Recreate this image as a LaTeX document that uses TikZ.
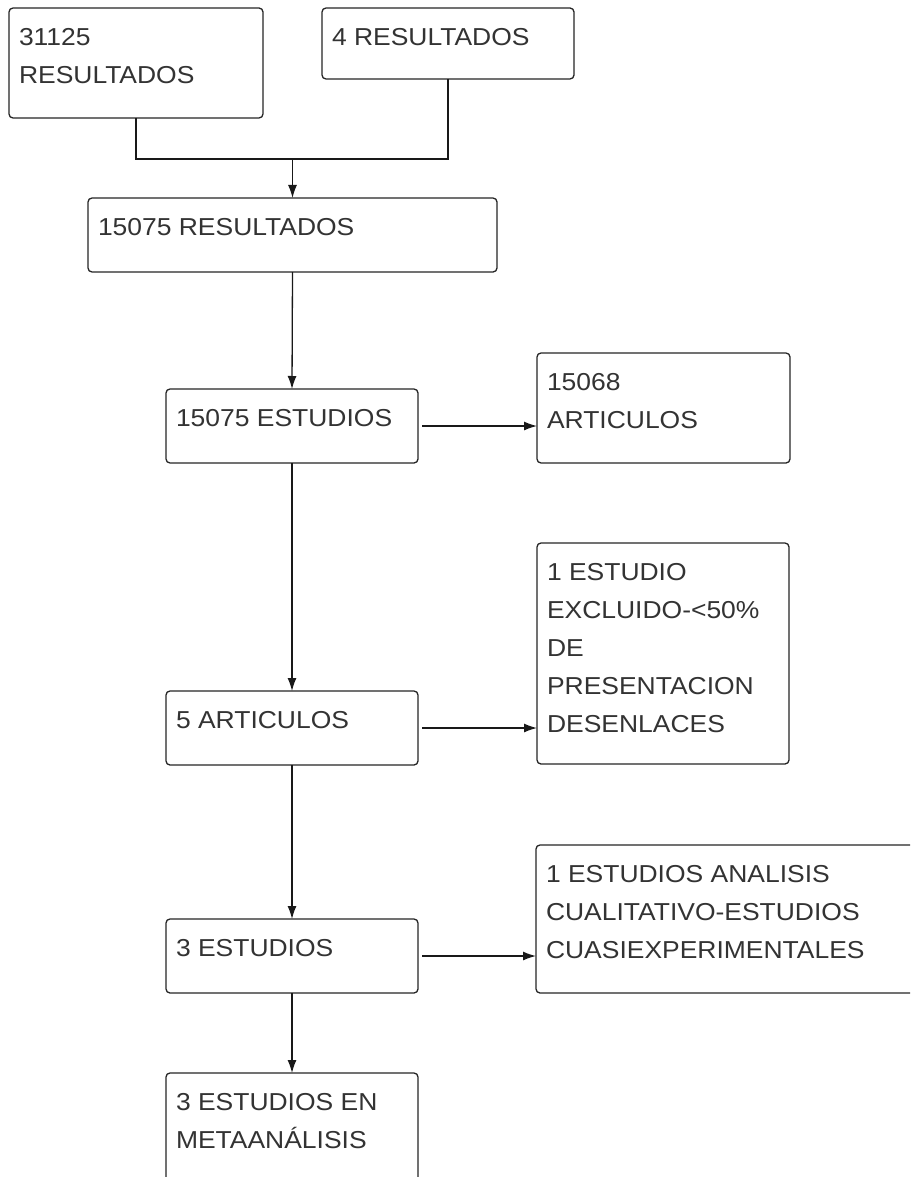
\documentclass[tikz,border=0pt]{standalone}
\usepackage{fontspec}
\setmainfont{Liberation Sans}[FakeStretch=1.08]
\usetikzlibrary{arrows.meta,calc}
\newcommand{\bx}[3]{\parbox[c][\dimexpr#2pt-22pt\relax][t]{\dimexpr#1pt-20pt\relax}{\raggedright\fontsize{24.5}{38}\selectfont\strut #3}}
\tikzset{
  flowbox/.style={draw=black!85, line width=1.3pt, rounded corners=4pt, inner xsep=10pt, inner ysep=11pt, anchor=north west, outer sep=0pt, text=black!80},
  link/.style={draw=black!90, line width=1.3pt},
  arr/.style={link, -{Latex[length=13pt,width=9pt]}}
}
\begin{document}
\begin{tikzpicture}[x=1pt,y=-1pt]
\useasboundingbox (0,0) rectangle (910,1177);
\fill[white] (0,0) rectangle (910,1177);
\clip (0,0) rectangle (910,1177);
\node[flowbox] (A) at (9,8) {\bx{254}{110}{31125\\RESULTADOS}};
\node[flowbox] (B) at (322,8) {\bx{252}{71}{4 RESULTADOS}};
\node[flowbox] (C) at (88,198) {\bx{409}{74}{15075 RESULTADOS}};
\node[flowbox] (D) at (166,389) {\bx{252}{74}{15075 ESTUDIOS}};
\node[flowbox] (E) at (537,353) {\bx{253}{110}{15068\\ARTICULOS}};
\node[flowbox] (F) at (166,691) {\bx{252}{74}{5 ARTICULOS}};
\node[flowbox] (G) at (537,543) {\bx{252}{221}{1 ESTUDIO\\EXCLUIDO-<50\%\\DE\\PRESENTACION\\DESENLACES}};
\node[flowbox] (H) at (166,919) {\bx{252}{74}{3 ESTUDIOS}};
\node[flowbox] (I) at (536,845) {\bx{420}{148}{1 ESTUDIOS ANALISIS\\CUALITATIVO-ESTUDIOS\\CUASIEXPERIMENTALES}};
\node[flowbox] (J) at (166,1073) {\bx{252}{150}{3 ESTUDIOS EN\\METAANÁLISIS}};
\coordinate (j) at ($(C.north)+(0,-39)$);
\draw[link] (A.south) |- (j) -| (B.south);
\draw[arr] (j) -- (C.north);
\draw[arr] (C.south) -- (D.north);
\draw[arr, shorten <=4pt] (D.east) -- (D.east -| E.west);
\draw[arr] (D.south) -- (F.north);
\draw[arr, shorten <=4pt] (F.east) -- (F.east -| G.west);
\draw[arr] (F.south) -- (H.north);
\draw[arr, shorten <=4pt] (H.east) -- (H.east -| I.west);
\draw[arr] (H.south) -- (J.north);
\end{tikzpicture}
\end{document}
